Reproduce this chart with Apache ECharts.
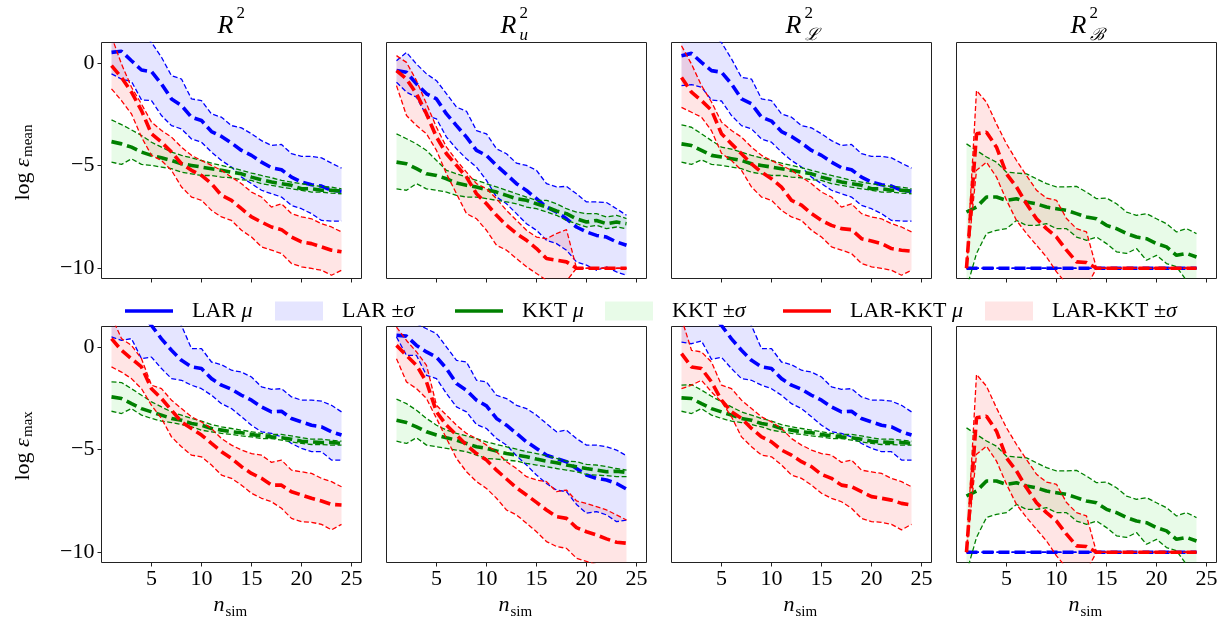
<!DOCTYPE html>
<html><head><meta charset="utf-8">
<script src="https://cdn.jsdelivr.net/npm/echarts@6/dist/echarts.min.js"></script>
<style>html,body{margin:0;padding:0;background:#fff}#c{width:1232px;height:634px}</style>
</head><body><div id="c"></div><script>
// ---------------- data ----------------
const nSim = [1,2,3,4,5,6,7,8,9,10,11,12,13,14,15,16,17,18,19,20,21,22,23,24];
const xTicks = [5,10,15,20,25];
const yTicks = [-10,-5,0];
const colTitles = ['', 'u', 'ℒ', 'ℬ'];
const rowLabels = ['mean', 'max'];
const legendNames = ['LAR μ','LAR ±σ','KKT μ','KKT ±σ','LAR-KKT μ','LAR-KKT ±σ'];

// row 1 (log eps_mean), column R^2
const mR2_LAR_mu = [0.52,0.57,0.11,-0.34,-0.42,-1.02,-1.75,-2.07,-2.64,-2.8,-3.34,-3.58,-3.9,-4.26,-4.5,-4.83,-5.1,-5.2,-5.56,-5.8,-5.93,-6.0,-6.2,-6.25];
const mR2_LAR_hi = [2.4,2.2,1.9,1.5,1.0,0.28,-0.62,-0.78,-1.75,-1.83,-2.48,-2.64,-3.05,-3.16,-3.45,-3.78,-4.02,-3.97,-4.42,-4.55,-4.55,-4.62,-4.88,-5.12];
const mR2_LAR_lo = [-0.53,-0.78,-0.9,-1.8,-1.83,-2.56,-3.05,-3.21,-3.7,-3.86,-4.34,-4.75,-5.07,-5.56,-5.88,-6.2,-6.37,-6.53,-6.94,-7.1,-7.34,-7.67,-7.7,-7.7];
const mR2_KKT_mu = [-3.83,-3.94,-4.1,-4.34,-4.5,-4.62,-4.75,-4.91,-4.99,-5.07,-5.15,-5.23,-5.32,-5.4,-5.56,-5.69,-5.8,-5.88,-5.96,-6.13,-6.13,-6.2,-6.2,-6.24];
const mR2_KKT_hi = [-2.77,-3.0,-3.26,-3.53,-3.86,-4.1,-4.34,-4.5,-4.62,-4.75,-4.88,-4.99,-5.1,-5.23,-5.36,-5.48,-5.59,-5.72,-5.8,-5.88,-5.96,-6.01,-6.05,-6.13];
const mR2_KKT_lo = [-4.83,-4.94,-4.67,-4.94,-4.99,-5.07,-5.15,-5.32,-5.4,-5.48,-5.48,-5.56,-5.59,-5.69,-5.72,-5.88,-5.96,-6.05,-6.13,-6.2,-6.29,-6.29,-6.34,-6.37];
const mR2_LK_mu = [-0.13,-0.7,-1.42,-2.32,-3.45,-3.86,-4.34,-4.91,-5.23,-5.48,-5.88,-6.45,-6.69,-7.1,-7.5,-7.75,-7.99,-8.12,-8.48,-8.72,-8.8,-8.96,-9.12,-9.2];
const mR2_LK_hi = [1.3,-0.05,-1.18,-2.0,-2.88,-3.29,-3.61,-4.1,-4.5,-4.75,-4.99,-5.23,-5.56,-5.88,-6.29,-6.53,-7.02,-6.86,-7.34,-7.5,-7.59,-7.83,-7.99,-8.23];
const mR2_LK_lo = [-1.26,-1.83,-2.48,-3.61,-4.5,-4.75,-5.23,-6.04,-6.53,-6.69,-7.18,-7.5,-7.67,-8.15,-8.48,-8.96,-9.12,-9.28,-9.77,-9.93,-10.01,-10.1,-10.34,-10.1];

// row 1, column R^2_u
const mRu_LAR_mu = [-0.37,-0.45,-1.02,-1.5,-1.75,-2.48,-3.05,-3.61,-4.26,-4.5,-4.99,-5.43,-5.88,-6.21,-6.61,-7.02,-7.26,-7.59,-7.99,-8.23,-8.4,-8.48,-8.72,-8.88];
const mRu_LAR_hi = [0.11,0.52,-0.05,-0.53,-0.86,-1.5,-2.15,-2.35,-3.29,-3.45,-4.18,-4.42,-4.88,-4.99,-5.23,-5.88,-6.04,-6.01,-6.37,-6.77,-6.77,-6.8,-7.1,-7.42];
const mRu_LAR_lo = [-0.94,-1.42,-1.67,-2.56,-2.72,-3.61,-4.18,-4.67,-5.07,-5.72,-6.53,-6.86,-7.34,-7.83,-8.15,-8.64,-8.8,-9.12,-9.69,-9.85,-10.1,-9.93,-10.18,-10.34];
const mRu_KKT_mu = [-4.83,-4.91,-5.15,-5.4,-5.48,-5.64,-5.85,-5.96,-6.04,-6.17,-6.29,-6.45,-6.61,-6.69,-6.86,-7.02,-7.21,-7.34,-7.59,-7.75,-7.67,-7.83,-7.75,-7.83];
const mRu_KKT_hi = [-3.45,-3.69,-3.94,-4.26,-4.75,-5.23,-5.4,-5.56,-5.72,-5.88,-6.04,-6.2,-6.37,-6.53,-6.69,-6.69,-6.86,-7.1,-7.26,-7.34,-7.34,-7.5,-7.42,-7.58];
const mRu_KKT_lo = [-6.13,-6.2,-5.88,-6.13,-6.2,-6.29,-6.45,-6.53,-6.53,-6.61,-6.69,-6.77,-6.86,-7.02,-7.1,-7.26,-7.42,-7.67,-7.83,-7.99,-7.91,-8.07,-7.99,-8.07];
const mRu_LK_mu = [-0.37,-0.78,-1.5,-2.48,-3.61,-4.42,-4.99,-5.56,-6.37,-6.86,-7.42,-7.91,-8.31,-8.64,-9.04,-9.53,-9.61,-9.69,-10,-10,-10,-10,-10,-10];
const mRu_LK_hi = [0.36,0.03,-0.86,-1.99,-3.13,-4.1,-4.75,-5.32,-5.88,-6.13,-6.61,-7.18,-7.67,-8.15,-8.48,-8.56,-8.31,-8.12,-10,-10,-10,-10,-10,-10];
const mRu_LK_lo = [-1.1,-2.56,-3.05,-3.45,-4.26,-5.4,-6.37,-7.34,-7.59,-8.15,-8.88,-9.12,-9.53,-9.93,-10.26,-10.58,-10.66,-10.62,-10,-10,-10,-10,-10,-10];

// row 1, column R^2_L
const mRL_LAR_mu = [0.36,0.47,0.03,-0.37,-0.45,-1.02,-1.75,-1.99,-2.64,-2.83,-3.34,-3.58,-3.9,-4.26,-4.5,-4.83,-5.1,-5.2,-5.56,-5.8,-5.93,-6.0,-6.2,-6.25];
const mRL_LAR_hi = [2.3,2.1,1.8,1.4,1.0,0.2,-0.7,-0.78,-1.75,-1.83,-2.48,-2.64,-3.05,-3.16,-3.45,-3.78,-4.02,-3.97,-4.42,-4.55,-4.55,-4.62,-4.88,-5.12];
const mRL_LAR_lo = [-1.1,-1.05,-1.18,-1.8,-1.85,-2.56,-3.05,-3.21,-3.7,-3.86,-4.34,-4.75,-5.07,-5.56,-5.88,-6.2,-6.37,-6.53,-6.94,-7.1,-7.34,-7.67,-7.7,-7.7];
const mRL_KKT_mu = [-3.94,-4.02,-4.26,-4.5,-4.58,-4.66,-4.75,-4.91,-4.99,-5.07,-5.15,-5.23,-5.32,-5.4,-5.56,-5.69,-5.8,-5.88,-5.96,-6.13,-6.13,-6.2,-6.2,-6.24];
const mRL_KKT_hi = [-3.01,-3.13,-3.45,-3.78,-4.1,-4.2,-4.34,-4.5,-4.62,-4.75,-4.88,-4.99,-5.1,-5.23,-5.36,-5.48,-5.59,-5.72,-5.8,-5.88,-5.96,-6.01,-6.05,-6.13];
const mRL_KKT_lo = [-4.83,-4.94,-4.72,-4.94,-4.99,-5.07,-5.15,-5.32,-5.4,-5.48,-5.48,-5.56,-5.59,-5.69,-5.72,-5.88,-5.96,-6.05,-6.13,-6.2,-6.29,-6.29,-6.34,-6.37];
const mRL_LK_mu = [-0.7,-1.42,-1.83,-2.3,-3.45,-3.94,-4.42,-4.91,-5.32,-5.64,-6.05,-6.69,-6.93,-7.34,-7.67,-7.91,-8.07,-8.12,-8.56,-8.67,-8.8,-9.04,-9.12,-9.17];
const mRL_LK_hi = [0.84,-0.05,-1.1,-1.9,-2.88,-3.29,-3.61,-4.1,-4.5,-4.75,-4.99,-5.23,-5.56,-5.88,-6.29,-6.53,-7.02,-6.86,-7.34,-7.5,-7.59,-7.83,-7.99,-8.23];
const mRL_LK_lo = [-2.16,-2.4,-2.64,-3.3,-4.4,-4.75,-5.23,-6.04,-6.53,-6.69,-7.18,-7.5,-7.67,-8.15,-8.48,-8.96,-9.12,-9.28,-9.77,-9.93,-10.01,-10.1,-10.34,-10.1];

// column R^2_B (same in both rows)
const RB_LAR_mu = [-10,-10,-10,-10,-10,-10,-10,-10,-10,-10,-10,-10,-10,-10,-10,-10,-10,-10,-10,-10,-10,-10,-10,-10];
const RB_LAR_hi = [-10,-10,-10,-10,-10,-10,-10,-10,-10,-10,-10,-10,-10,-10,-10,-10,-10,-10,-10,-10,-10,-10,-10,-10];
const RB_LAR_lo = [-10,-10,-10,-10,-10,-10,-10,-10,-10,-10,-10,-10,-10,-10,-10,-10,-10,-10,-10,-10,-10,-10,-10,-10];
const RB_KKT_mu = [-7.26,-7.02,-6.53,-6.53,-6.69,-6.61,-6.77,-6.86,-7.02,-7.1,-7.18,-7.34,-7.5,-7.59,-7.91,-8.07,-8.31,-8.48,-8.56,-8.8,-8.96,-9.37,-9.28,-9.45];
const RB_KKT_hi = [-3.94,-4.26,-4.58,-4.83,-5.32,-5.36,-5.4,-5.64,-5.88,-6.04,-6.04,-6.01,-6.29,-6.61,-6.58,-6.86,-7.26,-7.42,-7.34,-7.59,-7.83,-8.23,-8.07,-8.31];
const RB_KKT_lo = [-11,-9.28,-8.31,-8.15,-8.07,-7.67,-7.91,-7.91,-7.83,-8.07,-8.07,-8.48,-8.64,-8.48,-8.8,-9.2,-9.28,-9.04,-9.61,-9.37,-9.77,-9.93,-10.6,-11.1];
const RB_LK_mu = [-10,-3.45,-3.37,-4.1,-5.4,-6.04,-6.86,-7.59,-8.07,-8.48,-9.12,-9.69,-9.72,-10,-10,-10,-10,-10,-10,-10,-10,-10,-10,-10];
const RB_LK_hi = [-10,-1.34,-1.91,-2.97,-3.94,-4.75,-5.48,-6.2,-6.58,-6.69,-7.58,-8.07,-8.23,-10,-10,-10,-10,-10,-10,-10,-10,-10,-10,-10];
const RB_LK_lo = [-10,-5.23,-4.83,-5.56,-6.69,-7.67,-8.31,-8.88,-9.45,-10.18,-10.75,-11.1,-10.9,-10,-10,-10,-10,-10,-10,-10,-10,-10,-10,-10];

// row 2 (log eps_max), column R^2
const xR2_LAR_mu = [2.6,2.3,2.0,1.6,1.05,0.4,-0.16,-0.65,-0.97,-1.05,-1.54,-1.86,-2.06,-2.35,-2.59,-2.92,-3.16,-3.13,-3.48,-3.65,-3.81,-3.89,-4.13,-4.29];
const xR2_LAR_hi = [3.5,3.3,3.0,2.6,2.3,1.9,1.4,1.05,-0.08,-0.08,-0.73,-0.86,-1.13,-1.22,-1.46,-1.94,-2.06,-2.03,-2.43,-2.59,-2.59,-2.64,-2.84,-3.16];
const xR2_LAR_lo = [0.49,0.32,0.41,-0.57,-0.49,-1.05,-1.54,-1.62,-1.86,-2.03,-2.35,-2.76,-3.0,-3.4,-3.81,-4.13,-4.21,-4.38,-4.7,-4.94,-5.1,-5.1,-5.51,-5.51];
const xR2_KKT_mu = [-2.43,-2.51,-2.76,-3.0,-3.16,-3.32,-3.48,-3.57,-3.73,-3.81,-3.97,-4.05,-4.13,-4.18,-4.26,-4.33,-4.38,-4.42,-4.49,-4.59,-4.62,-4.65,-4.65,-4.7];
const xR2_KKT_hi = [-1.7,-1.73,-2.03,-2.35,-2.67,-2.92,-3.16,-3.32,-3.48,-3.61,-3.78,-3.89,-3.97,-4.05,-4.13,-4.21,-4.26,-4.26,-4.33,-4.42,-4.49,-4.49,-4.54,-4.59];
const xR2_KKT_lo = [-3.13,-3.24,-3.0,-3.32,-3.48,-3.61,-3.68,-3.78,-3.89,-4.05,-4.13,-4.21,-4.26,-4.33,-4.38,-4.46,-4.46,-4.54,-4.62,-4.7,-4.75,-4.75,-4.78,-4.78];
const xR2_LK_mu = [0.41,-0.16,-0.57,-0.97,-2.03,-2.51,-3.08,-3.65,-3.97,-4.29,-4.7,-5.1,-5.43,-5.83,-6.16,-6.4,-6.73,-6.73,-7.05,-7.21,-7.37,-7.5,-7.67,-7.7];
const xR2_LK_hi = [1.5,0.41,0.08,-0.57,-1.86,-2.03,-2.59,-3.0,-3.4,-3.65,-3.97,-4.46,-4.78,-5.02,-5.19,-5.27,-5.62,-5.51,-6.0,-6.08,-6.16,-6.4,-6.56,-6.81];
const xR2_LK_lo = [-0.97,-1.22,-1.54,-2.03,-2.84,-3.48,-4.38,-4.86,-5.27,-5.35,-5.75,-6.24,-6.4,-6.73,-7.13,-7.37,-7.54,-7.86,-8.35,-8.51,-8.54,-8.64,-8.91,-8.64];

// row 2, column R^2_u
const xRu_LAR_mu = [0.57,0.53,0.08,-0.24,-0.49,-1.05,-1.78,-2.11,-2.59,-2.87,-3.48,-3.81,-4.21,-4.62,-4.94,-5.27,-5.43,-5.59,-5.92,-6.24,-6.4,-6.48,-6.65,-6.92];
const xRu_LAR_hi = [1.6,1.45,1.13,0.89,0.65,0.0,-0.65,-0.73,-1.62,-1.7,-2.35,-2.51,-2.84,-3.0,-3.32,-3.73,-4.13,-4.05,-4.46,-4.78,-4.78,-4.86,-5.02,-5.3];
const xRu_LAR_lo = [0.49,-0.41,-0.41,-1.38,-1.54,-2.27,-2.92,-3.16,-3.78,-3.97,-4.46,-4.78,-5.3,-5.75,-6.24,-6.65,-6.97,-7.05,-7.67,-8.1,-8.02,-8.18,-8.51,-8.43];
const xRu_KKT_mu = [-3.57,-3.68,-3.89,-4.13,-4.29,-4.42,-4.54,-4.7,-4.86,-4.94,-5.07,-5.19,-5.27,-5.35,-5.46,-5.56,-5.64,-5.75,-5.83,-5.92,-6.0,-6.08,-6.05,-6.11];
const xRu_KKT_hi = [-2.54,-2.76,-3.08,-3.48,-3.81,-4.05,-4.21,-4.33,-4.46,-4.62,-4.75,-4.86,-4.98,-5.1,-5.19,-5.3,-5.43,-5.56,-5.59,-5.72,-5.75,-5.83,-5.92,-6.0];
const xRu_KKT_lo = [-4.59,-4.7,-4.42,-4.78,-4.86,-4.94,-5.02,-5.1,-5.27,-5.43,-5.46,-5.51,-5.56,-5.67,-5.75,-5.83,-5.92,-6.0,-6.08,-6.21,-6.24,-6.27,-6.32,-6.32];
const xRu_LK_mu = [0.08,-0.41,-0.89,-1.7,-3.16,-3.81,-4.29,-4.78,-5.19,-5.51,-6.0,-6.43,-6.86,-7.21,-7.57,-7.94,-8.27,-8.35,-8.8,-9.0,-9.16,-9.35,-9.51,-9.56];
const xRu_LK_hi = [0.97,0.32,-0.24,-0.89,-2.84,-3.32,-3.81,-4.21,-4.46,-4.78,-5.1,-5.59,-5.92,-6.32,-6.48,-6.56,-7.05,-6.97,-7.5,-7.62,-7.78,-7.94,-8.18,-8.43];
const xRu_LK_lo = [-0.57,-1.7,-2.03,-2.51,-3.48,-4.46,-5.43,-6.08,-6.56,-6.89,-7.37,-7.94,-8.18,-8.59,-9.0,-9.48,-9.72,-9.81,-10.29,-10.45,-10.6,-10.7,-10.86,-10.94];

// row 2, column R^2_L
const xRL_LAR_mu = [2.6,2.3,2.0,1.6,1.05,0.4,-0.16,-0.65,-0.97,-1.05,-1.54,-1.86,-2.06,-2.35,-2.59,-2.92,-3.16,-3.13,-3.48,-3.65,-3.81,-3.89,-4.13,-4.29];
const xRL_LAR_hi = [3.5,3.3,3.0,2.6,2.3,1.9,1.4,1.05,-0.08,-0.08,-0.73,-0.86,-1.13,-1.22,-1.46,-1.94,-2.06,-2.03,-2.43,-2.59,-2.59,-2.64,-2.84,-3.16];
const xRL_LAR_lo = [0.24,0.16,0.3,-0.6,-0.5,-1.05,-1.54,-1.62,-1.86,-2.03,-2.35,-2.76,-3.0,-3.4,-3.81,-4.13,-4.21,-4.38,-4.7,-4.94,-5.1,-5.1,-5.51,-5.51];
const xRL_KKT_mu = [-2.48,-2.51,-2.76,-3.0,-3.16,-3.32,-3.48,-3.57,-3.73,-3.81,-3.97,-4.05,-4.13,-4.18,-4.26,-4.33,-4.38,-4.42,-4.49,-4.59,-4.62,-4.65,-4.65,-4.7];
const xRL_KKT_hi = [-1.86,-1.83,-2.1,-2.4,-2.67,-2.92,-3.16,-3.32,-3.48,-3.61,-3.78,-3.89,-3.97,-4.05,-4.13,-4.21,-4.26,-4.26,-4.33,-4.42,-4.49,-4.49,-4.54,-4.59];
const xRL_KKT_lo = [-3.13,-3.24,-3.0,-3.32,-3.48,-3.61,-3.68,-3.78,-3.89,-4.05,-4.13,-4.21,-4.26,-4.33,-4.38,-4.46,-4.46,-4.54,-4.62,-4.7,-4.75,-4.75,-4.78,-4.78];
const xRL_LK_mu = [-0.32,-0.97,-1.05,-1.7,-2.59,-3.16,-3.48,-3.97,-4.38,-4.62,-5.02,-5.27,-5.59,-5.83,-6.21,-6.4,-6.73,-6.81,-7.05,-7.29,-7.37,-7.46,-7.62,-7.7];
const xRL_LK_hi = [1.4,-0.16,-0.24,-0.73,-1.86,-2.03,-2.59,-3.0,-3.4,-3.65,-3.97,-4.46,-4.78,-5.02,-5.19,-5.27,-5.62,-5.51,-6.0,-6.08,-6.16,-6.4,-6.56,-6.81];
const xRL_LK_lo = [-2.03,-1.86,-1.62,-2.19,-2.67,-3.4,-4.38,-4.86,-5.27,-5.35,-5.75,-6.24,-6.4,-6.73,-7.13,-7.37,-7.54,-7.86,-8.35,-8.51,-8.54,-8.64,-8.91,-8.64];

// ---------------- layout / style ----------------
const FONT = "'Liberation Serif', 'DejaVu Serif', serif";
const GL = [101.5, 386.5, 671.5, 956.5], GT = [42.5, 326.5], GW = 260, GH = 236;
const COLORS = {LAR:'#0000ff', KKT:'#008000', LK:'#ff0000'};
const FILLS = {LAR:'rgba(0,0,255,0.1)', KKT:'rgba(0,215,0,0.09)', LK:'rgba(255,0,0,0.1)'};
const NAMES = {LAR:['LAR μ','LAR ±σ'], KKT:['KKT μ','KKT ±σ'], LK:['LAR-KKT μ','LAR-KKT ±σ']};

const panels = [
  {LAR:[mR2_LAR_mu,mR2_LAR_hi,mR2_LAR_lo], KKT:[mR2_KKT_mu,mR2_KKT_hi,mR2_KKT_lo], LK:[mR2_LK_mu,mR2_LK_hi,mR2_LK_lo]},
  {LAR:[mRu_LAR_mu,mRu_LAR_hi,mRu_LAR_lo], KKT:[mRu_KKT_mu,mRu_KKT_hi,mRu_KKT_lo], LK:[mRu_LK_mu,mRu_LK_hi,mRu_LK_lo]},
  {LAR:[mRL_LAR_mu,mRL_LAR_hi,mRL_LAR_lo], KKT:[mRL_KKT_mu,mRL_KKT_hi,mRL_KKT_lo], LK:[mRL_LK_mu,mRL_LK_hi,mRL_LK_lo]},
  {LAR:[RB_LAR_mu,RB_LAR_hi,RB_LAR_lo], KKT:[RB_KKT_mu,RB_KKT_hi,RB_KKT_lo], LK:[RB_LK_mu,RB_LK_hi,RB_LK_lo]},
  {LAR:[xR2_LAR_mu,xR2_LAR_hi,xR2_LAR_lo], KKT:[xR2_KKT_mu,xR2_KKT_hi,xR2_KKT_lo], LK:[xR2_LK_mu,xR2_LK_hi,xR2_LK_lo]},
  {LAR:[xRu_LAR_mu,xRu_LAR_hi,xRu_LAR_lo], KKT:[xRu_KKT_mu,xRu_KKT_hi,xRu_KKT_lo], LK:[xRu_LK_mu,xRu_LK_hi,xRu_LK_lo]},
  {LAR:[xRL_LAR_mu,xRL_LAR_hi,xRL_LAR_lo], KKT:[xRL_KKT_mu,xRL_KKT_hi,xRL_KKT_lo], LK:[xRL_LK_mu,xRL_LK_hi,xRL_LK_lo]},
  {LAR:[RB_LAR_mu,RB_LAR_hi,RB_LAR_lo], KKT:[RB_KKT_mu,RB_KKT_hi,RB_KKT_lo], LK:[RB_LK_mu,RB_LK_hi,RB_LK_lo]}
];

const pts = a => nSim.map((n, i) => [n, a[i]]);

function bandSeries(gi, m, hi, lo) {
  return {type: 'custom', name: NAMES[m][1], xAxisIndex: gi, yAxisIndex: gi, clip: true, silent: true, z: 1,
    data: nSim.map((n, i) => [n, lo[i], hi[i]]),
    encode: {x: 0, y: [1, 2]},
    renderItem: (params, api) => {
      if (params.dataIndex !== 0) return null;
      const upper = hi.map((v, i) => api.coord([nSim[i], v]));
      const lower = lo.map((v, i) => api.coord([nSim[i], v])).reverse();
      return {type: 'polygon', shape: {points: upper.concat(lower)}, style: {fill: FILLS[m], stroke: null}};
    }};
}

const grids = [], xAxes = [], yAxes = [], series = [];
panels.forEach((p, gi) => {
  const row = Math.floor(gi / 4), col = gi % 4;
  grids.push({left: GL[col], top: GT[row], width: GW, height: GH, show: true,
    borderColor: '#222', borderWidth: 1, backgroundColor: 'transparent'});
  xAxes.push({type: 'value', gridIndex: gi, min: 0, max: 26, position: 'bottom',
    axisLine: {show: false, onZero: false}, splitLine: {show: false},
    axisTick: {show: true, customValues: xTicks, length: 4, lineStyle: {color: '#222', width: 1}},
    axisLabel: {show: row === 1, customValues: xTicks, fontFamily: FONT, fontSize: 22, color: '#000', margin: 6}});
  yAxes.push({type: 'value', gridIndex: gi, min: -10.5, max: 1, position: 'left',
    axisLine: {show: false, onZero: false}, splitLine: {show: false},
    axisTick: {show: col === 0, customValues: yTicks, length: 4, lineStyle: {color: '#222', width: 1}},
    axisLabel: {show: col === 0, customValues: yTicks, fontFamily: FONT, fontSize: 22, color: '#000', margin: 7,
      formatter: v => String(v).replace('-', '\u2212')}});
  ['LAR', 'KKT', 'LK'].forEach(m => {
    const [mu, hi, lo] = p[m];
    series.push(bandSeries(gi, m, hi, lo));
  });
  ['LAR', 'KKT', 'LK'].forEach(m => {
    const [mu, hi, lo] = p[m];
    [hi, lo].forEach(e => series.push({type: 'line', xAxisIndex: gi, yAxisIndex: gi, data: pts(e), symbol: 'none', silent: true, z: 2,
      lineStyle: {color: COLORS[m], width: 1.3, type: [5, 2.5]}}));
    series.push({type: 'line', name: NAMES[m][0], xAxisIndex: gi, yAxisIndex: gi, data: pts(mu), symbol: 'none', silent: true, z: 2,
      lineStyle: {color: COLORS[m], width: 3.6, type: [11, 5]}});
  });
});

// ---------------- texts ----------------
const graphics = [];
const txt = (x, y, text, size, italic, extra) => Object.assign({type: 'text', x, y, silent: true,
  style: {text, fontFamily: FONT, fontSize: size, fontStyle: italic ? 'italic' : 'normal', fill: '#000',
    align: 'left', textAlign: 'left', verticalAlign: 'middle', textVerticalAlign: 'middle'}}, extra || {});
colTitles.forEach((sub, c) => {
  const cx = GL[c] + GW / 2;
  if (!sub) {
    graphics.push(txt(cx - 14, 26, 'R', 26, true));
    graphics.push(txt(cx + 5, 14, '2', 17, false));
  } else {
    graphics.push(txt(cx - 16, 26, 'R', 26, true));
    graphics.push(txt(cx + 3, 14, '2', 17, false));
    graphics.push(txt(cx + 3, 36, sub, 17, true));
  }
  graphics.push(txt(cx - 18, 605, 'n', 22, true));
  graphics.push(txt(cx - 6, 612, 'sim', 15, false));
});
rowLabels.forEach((lab, r) => {
  const cy = GT[r] + GH / 2 + 2;
  const half = lab === 'mean' ? 38 : 34;
  graphics.push({type: 'group', x: 23, y: cy, rotation: Math.PI / 2, children: [
    txt(-half, 0, 'log ', 22, false),
    txt(-half + 33.5, 0, 'ε', 22, true),
    txt(-half + 43.5, 5, lab, 15, false)
  ]});
});

// ---------------- legend ----------------
const LINE_ICON = 'path://M0,0H48V3.6H0Z';
const LEG_X = [120, 270, 450, 600, 778, 980];
const legendIcons = [LINE_ICON, 'rect', LINE_ICON, 'rect', LINE_ICON, 'rect'];
const legendColors = [COLORS.LAR, FILLS.LAR, COLORS.KKT, FILLS.KKT, COLORS.LK, FILLS.LK];
const legends = legendNames.map((name, i) => ({
  data: [{name, icon: legendIcons[i], itemStyle: {color: legendColors[i]}}],
  left: LEG_X[i], top: 295, itemWidth: 48, itemHeight: 19, selectedMode: false,
  formatter: nm => '{sp| }' + nm.slice(0, -1) + '{m|' + nm.slice(-1) + '}',
  textStyle: {fontFamily: FONT, fontSize: 22, color: '#000',
    rich: {sp: {width: 14}, m: {fontFamily: FONT, fontSize: 22, fontStyle: 'italic', color: '#000'}}}
}));

const chart = echarts.init(document.getElementById('c'), null, {renderer: 'canvas'});
chart.setOption({
  animation: false,
  backgroundColor: '#fff',
  grid: grids, xAxis: xAxes, yAxis: yAxes, series,
  legend: legends,
  graphic: graphics
});
</script></body></html>
